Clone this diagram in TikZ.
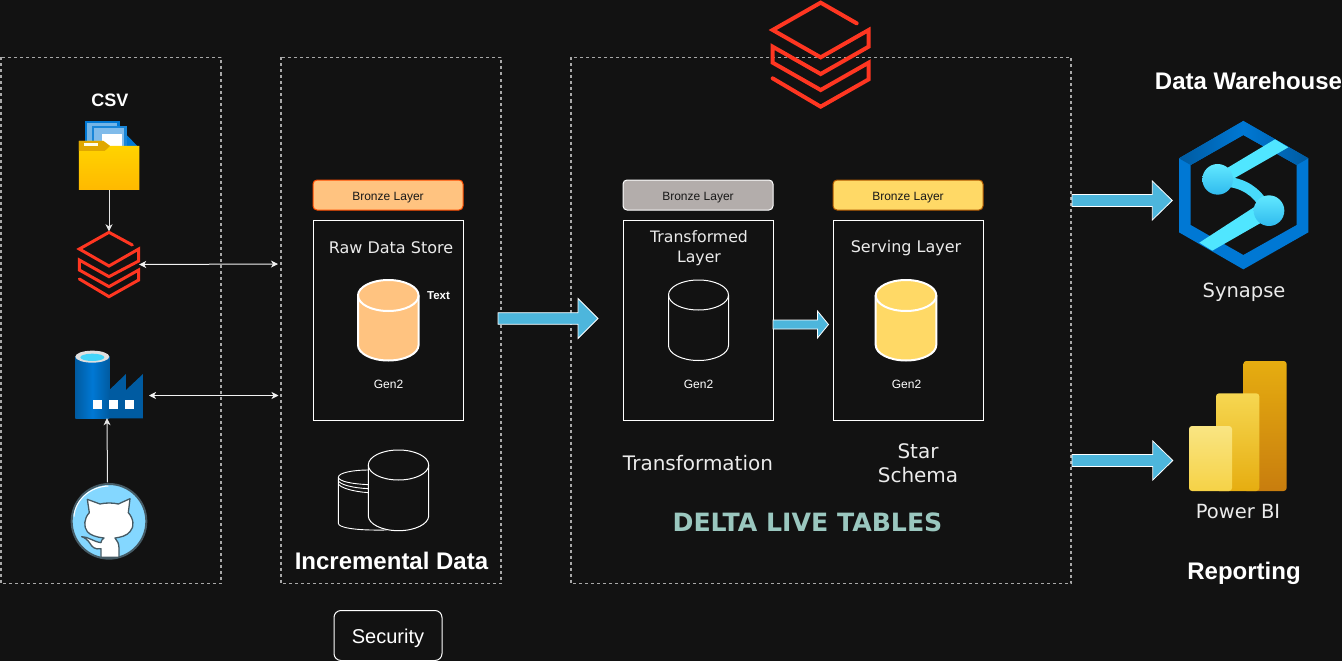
\documentclass[tikz,border=0pt]{standalone}
\usepackage{fontspec}
\setmainfont{Liberation Sans}
\newfontfamily\dv{DejaVu Sans}
\usetikzlibrary{arrows.meta,calc}
\definecolor{bg}{HTML}{121212}
\definecolor{dashc}{HTML}{A8A8A8}
\definecolor{orangef}{HTML}{FFC380}
\definecolor{yellowf}{HTML}{FFD966}
\definecolor{grayf}{HTML}{B3ADAB}
\definecolor{arrowf}{HTML}{4DB6DC}
\definecolor{dbred}{HTML}{FF3621}
\definecolor{azure}{HTML}{0078D4}
\definecolor{azured}{HTML}{005BA1}
\definecolor{cyanb}{HTML}{50E6FF}
\definecolor{teal}{HTML}{9AC7BF}
\definecolor{ghring}{HTML}{455A64}
\definecolor{ghfill}{HTML}{84D7FF}
\definecolor{foldertop}{HTML}{FFD600}
\definecolor{folderbot}{HTML}{FFB900}
\definecolor{foldertab}{HTML}{E0A800}
\definecolor{pbia}{HTML}{E6AD10}
\definecolor{pbib}{HTML}{C87D0E}
\definecolor{pbic}{HTML}{F6D751}
\definecolor{pbid}{HTML}{F9E583}
\definecolor{pbie}{HTML}{F6D246}
\newcommand\fsz[2]{\fontsize{#1}{#2}\selectfont}
\tikzset{
  dashbox/.style={draw=dashc,line width=1.3pt,dash pattern=on 3pt off 3pt},
  whitebox/.style={draw=white,line width=1pt,fill=none},
  layertag/.style={rounded corners=4pt,line width=1pt,minimum width=150pt,minimum height=30pt,inner sep=0pt,text=black!90,font=\fsz{12}{14},text height=10pt,text depth=0pt},
  label/.style={text=white,inner sep=0pt,align=center},
  boldlabel/.style={label,font=\bfseries\fsz{24}{28}},
  dvlabel/.style={text=white!92!black,inner sep=0pt,align=center,font=\dv\fsz{16}{20}},
  genlabel/.style={label,font=\fsz{12}{14}},
  iconbox/.style={inner sep=0pt,draw=none,fill=none},
  thinarrow/.style={draw=white!90!black,line width=1pt,-{Stealth[length=7pt,width=7pt,inset=2pt]}},
  bothways/.style={draw=white!95!black,line width=1pt,{Stealth[length=7pt,width=7pt,inset=2pt]}-{Stealth[length=7pt,width=7pt,inset=2pt]}},
  blockstyle/.style={fill=arrowf,draw=white,line width=.8pt,line join=miter},
  zoomat/.style={shift={(#1)},x=.33333pt,y=-.33333pt},
  dbline/.style={draw=dbred,line join=miter,line cap=round,fill=none},
}
% center x, radius x, top y, bottom y, radius y, style
\newcommand\cyl[6]{%
  \draw[#6] (#1-#2,#3+#5) -- (#1-#2,#4-#5) arc[start angle=180,end angle=360,x radius=#2pt,y radius=#5pt]
     -- (#1+#2,#3+#5) arc[start angle=0,end angle=180,x radius=#2pt,y radius=#5pt] -- cycle;
  \draw[#6,fill=none] (#1-#2,#3+#5) arc[start angle=180,end angle=360,x radius=#2pt,y radius=#5pt];
}
% from, to, half body, half head, head length
\newcommand\blockarrow[5]{%
  \draw[blockstyle] let \p1=(#1),\p2=(#2) in
   (\x1,\y1+#3pt) -- (\x2-#5pt,\y1+#3pt) -- (\x2-#5pt,\y1+#4pt) -- (\x2,\y1)
   -- (\x2-#5pt,\y1-#4pt) -- (\x2-#5pt,\y1-#3pt) -- (\x1,\y1-#3pt) -- cycle;
}
\begin{document}
\begin{tikzpicture}[x=1pt,y=-1pt]
\useasboundingbox (0,0) rectangle (1342,661);
\fill[bg] (0,0) rectangle (1342,661);

% dashed containers
\draw[dashbox] (1,57.5) rectangle (221,583.5);
\draw[dashbox] (281,57.5) rectangle (501,583.5);
\draw[dashbox] (571,57.5) rectangle (1071,583.5);

% big databricks logo
\begin{scope}[zoomat={740,0}]
\draw[dbline,line width=4pt] (350,70) -- (242,8) -- (98,90) -- (242,172) -- (386,90) -- (386,140) -- (242,222) -- (98,140) -- (98,188) -- (242,270) -- (386,188) -- (386,238) -- (242,320) -- (98,235);
\end{scope}

% CSV column
\node[label,font=\bfseries\fsz{18}{22}] (csv) at (110,100.5) {CSV};
\begin{scope}[zoomat={0,60}]
\fill[azure] (255,183) rectangle (360,260);
\fill[azure!55!white] (262,190) rectangle (352,260);
\fill[azure] (380,225) -- (412,258) -- (380,258) -- cycle;
\fill[azure!90!white] (275,198) rectangle (380,260);
\fill[azure!50!white] (282,205) rectangle (373,260);
\fill[white] (305,222) rectangle (365,260);
\shade[top color=foldertop,bottom color=folderbot] (237,243) -- (310,243) -- (330,258) -- (418,258) -- (418,390) -- (237,390) -- cycle;
\fill[foldertab] (237,243) -- (310,243) -- (330,258) -- (314,273) -- (237,273) -- cycle;
\fill[white!90!yellow] (252,250) rectangle (294,258);
\draw[dbline,line width=3pt] (397,555) -- (327,517) -- (238,567) -- (327,618) -- (416,567) -- (416,603) -- (327,650) -- (238,600) -- (238,630) -- (327,680) -- (416,630) -- (416,660) -- (327,710) -- (238,657);
\end{scope}
\node[iconbox,minimum width=60pt,minimum height=69pt] (folder) at (109,155.5) {};
\node[iconbox,minimum width=60pt,minimum height=66pt] (dbsmall) at (109,264.5) {};
\coordinate (dbend) at (278,264);
\draw[thinarrow] (folder.south) -- (dbsmall.north);
\draw[bothways] (dbsmall.east) -- (dbend);

% data factory
\begin{scope}[zoomat={0,330}]
\shade[left color=azured,right color=azured,middle color=azure] (226,80) rectangle (328,265);
\fill[azured] (328,180) -- (378,132) -- (378,180) -- (429,132) -- (429,265) -- (328,265) -- cycle;
\fill[white!88!black] (277,80) ellipse [x radius=51,y radius=18];
\fill[cyanb!85!azure] (277,82) ellipse [x radius=36,y radius=11];
\fill[white] (280,211) rectangle (307,238);
\fill[white] (328,211) rectangle (355,238);
\fill[white] (375,211) rectangle (402,238);
% github
\draw[draw=ghring,line width=2pt,fill=ghfill] (327,574) circle [radius=112];
\draw[white,line width=1pt] (222,560) .. controls (225,510) and (270,470) .. (325,468);
\draw[fill=white,draw=ghring,line width=1.3pt,line join=round]
  (262,508) -- (300,522) .. controls (315,518) and (340,518) .. (355,522) -- (390,506) -- (385,548)
  .. controls (400,565) and (405,590) .. (390,605) .. controls (380,618) and (360,622) .. (345,624)
  .. controls (352,632) and (357,640) .. (357,655) -- (357,682) -- (303,682) -- (303,656)
  .. controls (285,660) and (275,650) .. (270,640) .. controls (262,628) and (252,622) .. (245,620)
  .. controls (265,620) and (280,635) .. (303,638) .. controls (303,635) and (305,628) .. (312,624)
  .. controls (290,622) and (270,615) .. (262,605) .. controls (250,590) and (252,565) .. (268,548) -- cycle;
\end{scope}
\node[iconbox,minimum width=68pt,minimum height=68pt] (factory) at (109,384) {};
\node[iconbox,minimum width=76pt,minimum height=77pt] (github) at (109,521) {};
\coordinate (factend) at (278.5,395.5);
\coordinate (factstart) at (149,395.5);
\draw[thinarrow] ([xshift=-1.5pt]github.north) -- ([xshift=-2pt]factory.south);
\draw[bothways] (factstart) -- (factend);

% raw data column
\node[layertag,fill=orangef,draw=orange!60!red] (tagraw) at (388,195) {Bronze Layer};
\node[whitebox,minimum width=150pt,minimum height=200pt,inner sep=0pt] (boxraw) at (388,320.5) {};
\node[dvlabel] (rawtitle) at (391,248) {Raw Data Store};
\cyl{388.3}{30.3}{280}{360.5}{15.5}{draw=white,line width=2pt,fill=orangef}
\node[label,font=\bfseries\fsz{11.5}{14}] (texta) at (438.5,295.5) {Text};
\node[genlabel] (genraw) at (388.5,384.5) {Gen2};

% incremental icon
\begin{scope}[zoomat={290,440}]
\draw[white,line width=.9pt] (235,90) .. controls (190,90) and (145,98) .. (145,112) -- (145,250) .. controls (145,262) and (190,272) .. (290,270);
\draw[white,line width=.9pt] (145,112) .. controls (147,125) and (190,132) .. (235,134);
\draw[white,line width=.9pt] (145,121) .. controls (147,134) and (190,144) .. (235,146);
\draw[white,line width=.9pt] (145,130) .. controls (147,143) and (190,155) .. (235,158);
\end{scope}
\cyl{398.5}{30.2}{450}{530.7}{15}{draw=white,line width=1pt,fill=none}
\node[boldlabel] (incr) at (391.5,561) {Incremental Data};
\node[draw=white,line width=1pt,rounded corners=7pt,minimum width=108pt,minimum height=50pt,inner sep=0pt,label,font=\fsz{20}{24},text height=15.6pt,text depth=0pt] (secur) at (388,635.5) {Security};

% transformed
\node[layertag,fill=grayf,draw=white] (taggray) at (698,195) {Bronze Layer};
\node[whitebox,minimum width=150pt,minimum height=200pt,inner sep=0pt] (boxtr) at (698,320.5) {};
\node[dvlabel,font=\dv\fsz{15.7}{20}] (trtitle) at (699,248.5) {Transformed\\Layer};
\cyl{698.5}{30}{280}{360.5}{15}{draw=white,line width=1pt,fill=none}
\node[genlabel] (gentr) at (698.5,384.5) {Gen2};

% serving
\node[layertag,fill=yellowf,draw=orange!70!black] (tagyel) at (908,195) {Bronze Layer};
\node[whitebox,minimum width=150pt,minimum height=200pt,inner sep=0pt] (boxsv) at (908,320.5) {};
\node[dvlabel] (svtitle) at (906,248) {Serving Layer};
\cyl{906}{30.3}{280}{360.5}{15.5}{draw=white,line width=2pt,fill=yellowf}
\node[genlabel] (gensv) at (906.5,384.5) {Gen2};

\node[dvlabel,font=\dv\fsz{20}{24}] (transf) at (698,463) {Transformation};
\node[dvlabel,font=\dv\fsz{20}{24}] (star) at (918,463) {Star\\Schema};
\node[inner sep=0pt,text=teal,font=\dv\bfseries\fsz{25.2}{30}] (delta) at (807.5,522) {DELTA LIVE TABLES};

% block arrows
\coordinate (a1s) at (498,318.5);
\coordinate (a1e) at (598,318.5);
\coordinate (a2s) at (773,324.5);
\coordinate (a2e) at (828.5,324.5);
\coordinate (a3s) at (1072,200.5);
\coordinate (a4s) at (1072,460.5);
\node[iconbox,minimum width=130pt,minimum height=148pt] (synapse) at (1243.5,195) {};
\node[iconbox,minimum width=97pt,minimum height=130pt] (powerbi) at (1237.5,426) {};
\blockarrow{a1s}{a1e}{5.8}{20}{20}
\blockarrow{a2s}{a2e}{4.5}{13.5}{11}
\blockarrow{a3s}{[xshift=-6pt,yshift=5.5pt]synapse.west}{6}{19.5}{20}
\blockarrow{a4s}{[xshift=-16pt,yshift=-34.5pt]powerbi.west}{6}{19.5}{20}

% synapse icon
\begin{scope}[zoomat={1140,60}]
\fill[azure,even odd rule] (310,183) -- (505,295) -- (505,517) -- (310,628) -- (117,517) -- (117,295) -- cycle
   (310,225) -- (470,315) -- (470,495) -- (310,585) -- (152,495) -- (152,315) -- cycle;
\shade[left color=azure,right color=azured] (310,183) -- (505,295) -- (470,315) -- (310,225) -- cycle;
\shade[left color=azured,right color=azure] (310,183) -- (117,295) -- (152,315) -- (310,225) -- cycle;
\fill[cyanb] (405,238) -- (445,262) -- (265,365) -- (235,340) -- cycle;
\fill[cyanb] (360,430) -- (395,470) -- (217,572) -- (178,548) -- cycle;
\draw[cyanb!90!azure,line width=10pt] (255,365) .. controls (310,368) and (350,395) .. (375,440);
\shade[top color=cyanb!90!white,bottom color=cyanb!60!azure] (233,358) circle [radius=46];
\shade[top color=cyanb!90!white,bottom color=cyanb!60!azure] (387,452) circle [radius=46];
\end{scope}
\node[boldlabel] (dw) at (1248.5,81) {Data Warehouse};
\node[dvlabel,font=\dv\fsz{19.5}{24}] (synt) at (1244,292) {Synapse};

% power bi icon
\begin{scope}[zoomat={1140,350}]
\shade[top color=pbia,bottom color=pbib,rounded corners=3pt] (310,33) rectangle (440,423);
\shade[top color=pbic,bottom color=pbia,rounded corners=3pt] (228,130) rectangle (358,423);
\shade[top color=pbid,bottom color=pbie,rounded corners=3pt] (147,228) rectangle (276,423);
\end{scope}
\node[dvlabel,font=\dv\fsz{19.5}{24}] (pbit) at (1238,512) {Power BI};
\node[boldlabel] (rep) at (1244,573.5) {Reporting};
\end{tikzpicture}
\end{document}
